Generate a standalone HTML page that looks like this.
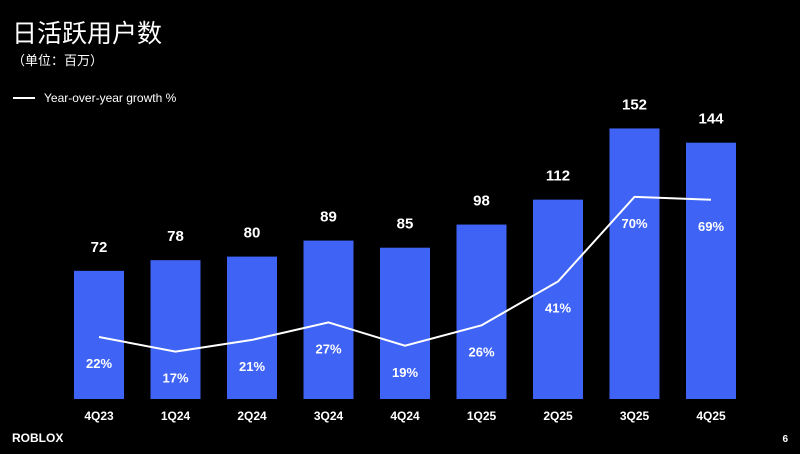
<!DOCTYPE html>
<html><head><meta charset="utf-8"><style>
body{margin:0;background:#000;width:800px;height:449px;overflow:hidden;font-family:"Liberation Sans","Noto Sans CJK SC",sans-serif;color:#fff}
</style></head><body>
<svg width="800" height="449" xmlns="http://www.w3.org/2000/svg">
<text x="12" y="42" font-size="25" fill="#fff" font-family="Noto Sans CJK SC, sans-serif">日活跃用户数</text>
<text x="12" y="65" font-size="13" fill="#fff" font-family="Noto Sans CJK SC, sans-serif">（单位：百万）</text>
<line x1="13" y1="98" x2="35" y2="98" stroke="#fff" stroke-width="2"/>
<text x="44" y="102" font-size="12" fill="#fff">Year-over-year growth %</text>
<g id="bars"></g><g id="line"></g>
<text x="12" y="442" font-size="12" font-weight="bold" fill="#fff">ROBLOX</text>
<text x="788" y="442" font-size="10" font-weight="bold" fill="#fff" text-anchor="end">6</text>
</svg>
<script>
const categories=["4Q23","1Q24","2Q24","3Q24","4Q24","1Q25","2Q25","3Q25","4Q25"];
const dau=[72,78,80,89,85,98,112,152,144];
const growth=[22,17,21,27,19,26,41,70,69];
const NS="http://www.w3.org/2000/svg";
const base=399, scale=1.78;
const xC=i=>99+i*76.5;
const yB=v=>base-v*scale;
const yG=v=>337-(v-22)*2.92;
const bars=document.getElementById('bars'), line=document.getElementById('line');
function mk(tag,attrs,parent,txt){const e=document.createElementNS(NS,tag);for(const k in attrs)e.setAttribute(k,attrs[k]);if(txt!==undefined)e.textContent=txt;parent.appendChild(e);return e;}
categories.forEach((c,i)=>{
  const r=mk('rect',{x:xC(i)-25,y:yB(dau[i]),width:50,height:dau[i]*scale,fill:'#3f63f5'},bars);
  
  
  const t=mk('text',{x:xC(i),y:yB(dau[i])-19,'font-size':15,'font-weight':'bold','text-anchor':'middle',fill:'#fff'},bars,dau[i]);
  
  
  const a=mk('text',{x:xC(i),y:420,'font-size':12,'font-weight':'bold','text-anchor':'middle',fill:'#fff'},bars,c);
  
  
});
const pts=growth.map((g,i)=>xC(i)+','+yG(g)).join(' ');
const pl=mk('polyline',{points:pts,fill:'none',stroke:'#fff','stroke-width':2},line);


growth.forEach((g,i)=>{
  const t=mk('text',{x:xC(i),y:yG(g)+31,'font-size':13,'font-weight':'bold','text-anchor':'middle',fill:'#fff'},line,g+'%');
  
  
});
</script>
</body></html>
